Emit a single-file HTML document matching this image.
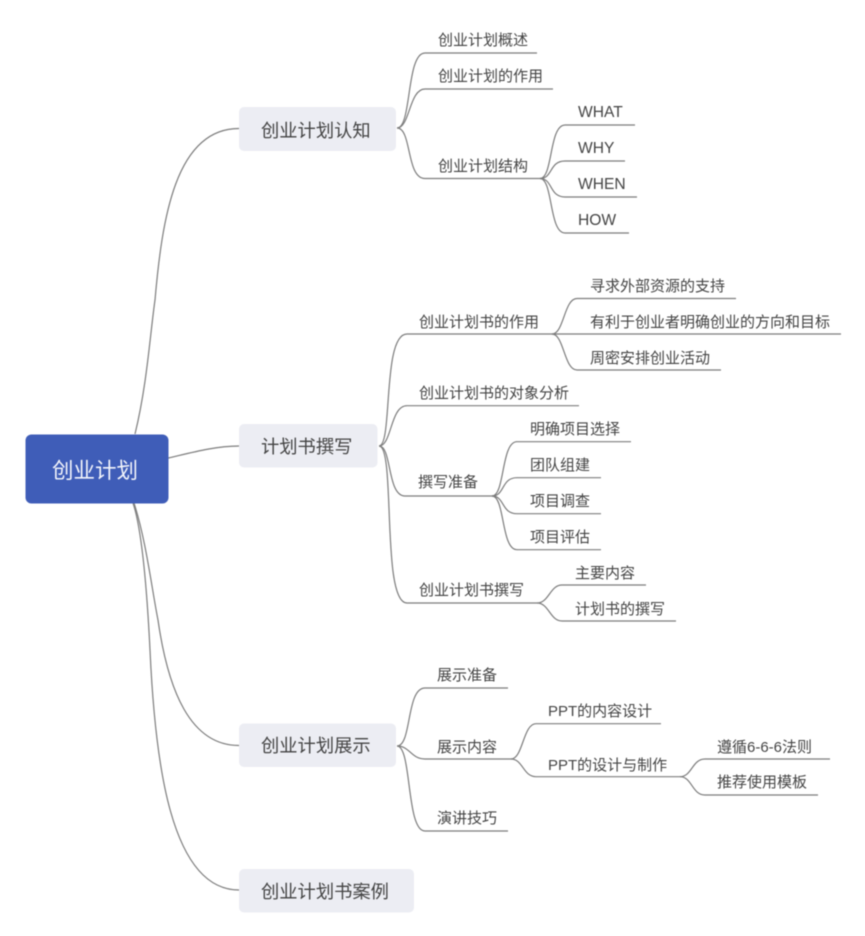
<!DOCTYPE html>
<html lang="zh"><head><meta charset="utf-8"><title>创业计划</title>
<style>
html,body{margin:0;padding:0;background:#fff;width:865px;height:936px;overflow:hidden}
svg{display:block;filter:blur(.4px)}
text{font-family:"Liberation Sans","Noto Sans CJK SC",sans-serif;fill:#444;font-size:15px}
.b{font-size:18.3px}
.r{font-size:21.5px;fill:#f2f4fb}
.e{font-size:15.6px}
path{fill:none;stroke:#7d7d7d;stroke-width:1.2}
</style></head><body>
<svg width="865" height="936" viewBox="0 0 865 936" xmlns="http://www.w3.org/2000/svg">
<!-- root connectors -->
<path d="M135 434C147 385 150 335 155 300C162 220 175 128.500 239 128.500"/>
<path d="M168.500 458C190 453 215 446 239 446"/>
<path d="M134 503C146 540 152 590 158 620C168 690 190 745.500 239 745.500"/>
<path d="M133 503C142 530 147 590 150 650C155 760 170 890 239 890"/>
<!-- nodes -->
<rect x="25.500" y="434.500" width="143" height="69" rx="6" fill="#3f5db8"/>
<rect x="239" y="107" width="157" height="44" rx="5" fill="#ecedf3"/>
<rect x="239" y="424" width="138.500" height="43.500" rx="5" fill="#ecedf3"/>
<rect x="239" y="723.500" width="157" height="43.500" rx="5" fill="#ecedf3"/>
<rect x="239" y="869" width="175" height="43.500" rx="5" fill="#ecedf3"/>
<text class="r" x="52" y="478">创业计划</text>
<text class="b" x="261" y="137">创业计划认知</text>
<text class="b" x="261" y="453">计划书撰写</text>
<text class="b" x="261" y="752">创业计划展示</text>
<text class="b" x="261" y="898">创业计划书案例</text>
<!-- branch 1 -->
<path d="M397 128C412 128 406 53 425 53H537"/>
<path d="M397 128C410 128 409 89 425 89H553"/>
<path d="M397 128C412 128 406 178.500 425 178.500H540"/>
<path d="M540 178.500C553 178.500 549 125 565 125H635"/>
<path d="M540 178.500C553 178.500 549 161 565 161H625"/>
<path d="M540 178.500C553 178.500 549 197 565 197H637"/>
<path d="M540 178.500C553 178.500 549 233 565 233H629"/>
<!-- branch 2 -->
<path d="M379 446C393 446 382 334 407 334H552"/>
<path d="M379 446C392 446 390 405.700 407 405.700H579"/>
<path d="M379 446C392 446 387 496 405 496H492"/>
<path d="M379 446C396 446 381 603 407 603H537"/>
<path d="M552 334C564 334 564 298.500 577 298.500H736"/>
<path d="M552 334H841"/>
<path d="M552 334C564 334 564 370 577 370H721"/>
<path d="M492 496C505 496 501 441.700 517 441.700H631"/>
<path d="M492 496C505 496 501 477.700 517 477.700H601"/>
<path d="M492 496C505 496 501 513.700 517 513.700H601"/>
<path d="M492 496C505 496 501 549.700 517 549.700H601"/>
<path d="M537 603C549 603 550 585 562 585H646"/>
<path d="M537 603C549 603 550 621 562 621H676"/>
<!-- branch 3 -->
<path d="M397 746C412 746 406 688 425 688H508"/>
<path d="M397 746C410 746 411 759 425 759H511"/>
<path d="M397 746C412 746 406 831 425 831H508"/>
<path d="M511 759C523 759 523 723.700 536 723.700H661"/>
<path d="M511 759C523 759 523 776.700 536 776.700H680"/>
<path d="M680 776.700C692 776.700 692 759 705 759H830"/>
<path d="M680 776.700C692 776.700 692 795 705 795H818"/>
<!-- labels -->
<text x="438" y="45">创业计划概述</text>
<text x="438" y="81">创业计划的作用</text>
<text x="438" y="171">创业计划结构</text>
<text class="e" x="578" y="117">WHAT</text>
<text class="e" x="578" y="153">WHY</text>
<text class="e" x="578" y="189">WHEN</text>
<text class="e" x="578" y="225">HOW</text>
<text x="419" y="327">创业计划书的作用</text>
<text x="590" y="291">寻求外部资源的支持</text>
<text x="590" y="327">有利于创业者明确创业的方向和目标</text>
<text x="590" y="363">周密安排创业活动</text>
<text x="419" y="398">创业计划书的对象分析</text>
<text x="418" y="487">撰写准备</text>
<text x="530" y="434">明确项目选择</text>
<text x="530" y="470">团队组建</text>
<text x="530" y="506">项目调查</text>
<text x="530" y="542">项目评估</text>
<text x="419" y="595">创业计划书撰写</text>
<text x="575" y="578">主要内容</text>
<text x="575" y="614">计划书的撰写</text>
<text x="437" y="680">展示准备</text>
<text x="437" y="752">展示内容</text>
<text x="437" y="823">演讲技巧</text>
<text x="548" y="716">PPT的内容设计</text>
<text x="548" y="770">PPT的设计与制作</text>
<text x="717" y="752">遵循6-6-6法则</text>
<text x="717" y="787">推荐使用模板</text>
</svg>
</body></html>
